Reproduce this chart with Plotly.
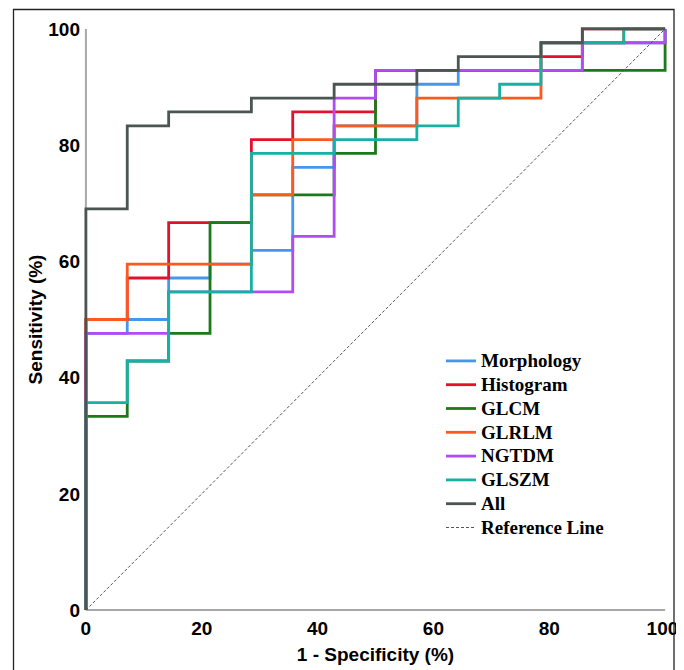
import plotly.graph_objects as go

# ROC step points (1 - specificity %, sensitivity %), drawn with 'hv' step shape
morph_fpr = [0, 0, 7.14, 14.29, 21.43, 28.57, 35.71, 42.86, 57.14, 64.29, 85.71, 100]
morph_tpr = [0, 47.62, 50.0, 57.14, 59.52, 61.90, 76.19, 83.33, 90.48, 92.86, 97.62, 100]

hist_fpr = [0, 0, 7.14, 14.29, 28.57, 35.71, 50.0, 78.57, 85.71, 100]
hist_tpr = [0, 50.0, 57.14, 66.67, 80.95, 85.71, 92.86, 95.24, 100, 100]

glcm_fpr = [0, 0, 7.14, 14.29, 21.43, 28.57, 42.86, 50.0, 100]
glcm_tpr = [0, 33.33, 42.86, 47.62, 66.67, 71.43, 78.57, 92.86, 100]

glrlm_fpr = [0, 0, 7.14, 28.57, 35.71, 42.86, 57.14, 78.57, 92.86, 100]
glrlm_tpr = [0, 50.0, 59.52, 71.43, 80.95, 83.33, 88.10, 97.62, 100, 100]

ngtdm_fpr = [0, 0, 14.29, 35.71, 42.86, 50.0, 85.71, 100]
ngtdm_tpr = [0, 47.62, 54.76, 64.29, 88.10, 92.86, 97.62, 100]

glszm_fpr = [0, 0, 7.14, 14.29, 28.57, 42.86, 57.14, 64.29, 71.43, 78.57, 92.86, 100]
glszm_tpr = [0, 35.71, 42.86, 54.76, 78.57, 80.95, 83.33, 88.10, 90.48, 97.62, 100, 100]

all_fpr = [0, 0, 7.14, 14.29, 28.57, 42.86, 57.14, 64.29, 78.57, 85.71, 100]
all_tpr = [0, 69.05, 83.33, 85.71, 88.10, 90.48, 92.86, 95.24, 97.62, 100, 100]

ref_x = [0, 100]
ref_y = [0, 100]

tick_vals = [0, 20, 40, 60, 80, 100]
y_tick_text = ["0", "20", "40", "60", "80", "100"]
x_tick_text = ["0", "20", "40", "60", "80", "100\u00a0"]

series = [
    ("Morphology", morph_fpr, morph_tpr, "#4597ee"),
    ("Histogram", hist_fpr, hist_tpr, "#e3112e"),
    ("GLCM", glcm_fpr, glcm_tpr, "#1b7a1b"),
    ("GLRLM", glrlm_fpr, glrlm_tpr, "#fa5a1e"),
    ("NGTDM", ngtdm_fpr, ngtdm_tpr, "#b14cf5"),
    ("GLSZM", glszm_fpr, glszm_tpr, "#16b1a3"),
    ("All", all_fpr, all_tpr, "#4b5553"),
]

def legend_label(s):
    return '<span style="font-size:19px">' + s + '</span>'

fig = go.Figure()
for name, xs, ys, col in series:
    fig.add_trace(go.Scatter(x=xs, y=ys, mode="lines", name=legend_label(name),
                             line=dict(color=col, width=2.8, shape="hv")))

fig.add_trace(go.Scatter(x=ref_x, y=ref_y, mode="lines", name=legend_label("Reference Line"),
                         line=dict(color="#555555", width=1, dash="3px,2px")))

# page body has an 8px margin, so figure coordinates = screen pixels - 8
OFF = 8
W, H = 684 - OFF, 670 - OFF
l, t = 83 - OFF, 26 - OFF
pw, ph = 585, 587
r = W - l - pw
b = H - t - ph

def px_to_paper_x(px):
    return (px - OFF - l) / pw

def px_to_paper_y(py):
    return (t + ph - (py - OFF)) / ph

axis_font = dict(family="Liberation Sans", size=19, color="black", weight="bold")

fig.update_layout(
    width=W, height=H,
    margin=dict(l=l, r=r, t=t, b=b, pad=0, autoexpand=False),
    paper_bgcolor="white", plot_bgcolor="white",
    showlegend=True,
    legend=dict(
        x=px_to_paper_x(441), y=px_to_paper_y(344), xanchor="left", yanchor="top",
        font=dict(family="Liberation Serif", size=16, color="black", weight="bold"),
        bgcolor="rgba(0,0,0,0)", itemwidth=30, tracegroupgap=0,
    ),
    xaxis=dict(
        range=[-0.5, 100.5], showgrid=False, zeroline=False, showline=False,
        tickvals=tick_vals, ticktext=x_tick_text, ticks="", ticklabelstandoff=2, automargin=False,
        ticklabeloverflow="allow",
        tickfont=axis_font,
        title=dict(text="1 - Specificity (%)", standoff=9, font=axis_font),
        fixedrange=True,
    ),
    yaxis=dict(
        range=[-0.5, 100.5], showgrid=False, zeroline=False, showline=False,
        tickvals=tick_vals, ticktext=y_tick_text, ticks="", ticklabelstandoff=2, automargin=False,
        ticklabeloverflow="allow",
        tickfont=axis_font,
        title=dict(text="Sensitivity (%)", standoff=0, font=axis_font),
        fixedrange=True,
    ),
    shapes=[
        dict(type="line", xref="x", yref="y", x0=0, y0=0, x1=100, y1=0,
             line=dict(color="#a8a8a8", width=2), layer="below"),
        dict(type="line", xref="x", yref="y", x0=0, y0=0, x1=0, y1=100,
             line=dict(color="#a8a8a8", width=2), layer="below"),
        dict(type="rect", xref="paper", yref="paper",
             x0=px_to_paper_x(13.5), x1=px_to_paper_x(674), y0=px_to_paper_y(690), y1=px_to_paper_y(9.5),
             line=dict(color="#222222", width=1.3), fillcolor="rgba(0,0,0,0)", layer="above"),
    ],
)

fig.write_html("out.html")
